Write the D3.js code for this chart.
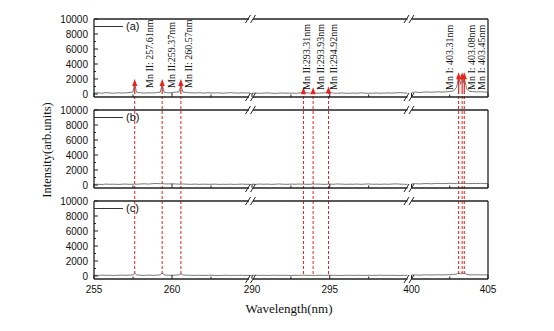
<!DOCTYPE html>
<html><head><meta charset="utf-8">
<script src="https://cdn.jsdelivr.net/npm/d3@7"></script>
<style>body{margin:0;background:#fff}</style>
</head><body><svg id="c" width="554" height="331"></svg>
<script>
// ---------- DATA ----------
const wl1 = [255,255.25,255.5,255.75,256,256.25,256.5,256.75,257,257.25,257.5,257.61,257.72,258,258.25,258.5,258.75,259,259.25,259.37,259.5,259.75,260,260.25,260.45,260.57,260.7,261,261.25,261.5,261.75,262,262.25,262.5,262.75,263,263.25,263.5,263.75,264,264.25,264.5,264.75,265];
const wl2 = [290,290.25,290.5,290.75,291,291.25,291.5,291.75,292,292.25,292.5,292.75,293,293.2,293.31,293.45,293.75,293.93,294.1,294.25,294.5,294.75,294.92,295.1,295.25,295.5,295.75,296,296.25,296.5,296.75,297,297.25,297.5,297.75,298,298.25,298.5,298.75,299,299.25,299.5,299.75,300];
const wl3 = [400,400.25,400.5,400.75,401,401.25,401.5,401.75,402,402.25,402.5,402.75,402.95,403.08,403.2,403.31,403.38,403.45,403.6,403.75,404,404.25,404.5,404.75,405];

const specA1 = [120,160,110,180,140,100,170,130,150,190,260,1450,240,160,120,170,140,180,250,1300,230,150,190,260,280,1200,250,200,160,140,180,120,170,150,130,160,110,150,180,140,120,160,130,150];
const specA2 = [100,130,90,120,150,110,80,120,140,100,130,90,120,180,350,170,110,250,130,100,140,170,450,180,120,100,140,110,90,130,100,150,120,90,110,140,100,130,150,120,160,180,140,120];
const specA3 = [220,260,200,240,280,230,260,300,250,290,330,400,900,2300,1300,2500,1500,2200,700,380,320,280,300,260,240];

const specB1 = [80,100,70,120,90,110,80,100,130,90,110,120,100,140,160,120,180,200,170,190,150,140,160,130,120,110,140,100,90,120,80,110,100,90,120,80,100,90,110,80,100,120,90,100];
const specB2 = [110,90,130,100,120,80,110,140,100,90,120,100,130,110,120,100,90,140,110,120,100,90,130,110,100,140,120,90,110,100,130,90,120,140,100,110,90,120,100,130,150,120,100,90];
const specB3 = [150,180,140,170,200,160,190,220,180,200,230,200,220,250,210,240,220,230,200,180,210,190,220,200,180];

const specC1 = [100,80,120,90,110,70,100,120,90,110,160,380,150,100,80,120,90,110,150,420,140,100,90,120,150,300,130,110,90,80,100,70,90,110,80,60,90,100,70,90,80,100,70,90];
const specC2 = [90,110,80,100,70,90,110,80,100,90,70,100,80,90,110,100,80,90,70,100,90,80,110,90,100,80,70,90,110,80,100,90,70,100,80,90,110,80,100,90,80,70,90,100];
const specC3 = [120,150,110,140,160,130,150,170,140,160,180,200,260,400,300,450,320,380,220,160,150,170,140,160,130];

const panelNames = ["(a)","(b)","(c)"];
const yTicks = [0,2000,4000,6000,8000,10000];
const segDomains = [[255,265],[290,300],[400,405]];
const xTickLabels = [[255,260],[290,295],[400,405]];
const xMinorTicks = [[257.5,262.5],[292.5,297.5],[402.5]];

const lineWl = [257.61,259.37,260.57,293.31,293.93,294.92,403.08,403.31,403.45];
const lineLabels = ["Mn II: 257.61nm","Mn II:259.37nm","Mn II: 260.57nm","Mn II:293.31nm","Mn II:293.93nm","Mn II:294.92nm","Mn I: 403.08nm","Mn I: 403.31nm","Mn I: 403.45nm"];
const arrowTop = [2000,2000,2000,900,900,1000,2900,2900,2900];

// ---------- LAYOUT ----------
const svg = d3.select("#c");
const X0 = 94, X1 = 488;
const segRanges = [[94,250],[252,407.5],[411.5,488]];
const breaks = [251, 409.5];
const xs = segDomains.map((d,i)=>d3.scaleLinear().domain(d).range(segRanges[i]));
function segOf(w){ return w < 280 ? 0 : (w < 350 ? 1 : 2); }
function X(w){ return xs[segOf(w)](w); }

const tops = [19,110,201], H = 78;
const ys = tops.map(t=>d3.scaleLinear().domain([-400,10000]).range([t+H,t]));
const specs = [[specA1,specA2,specA3],[specB1,specB2,specB3],[specC1,specC2,specC3]];
const wls = [wl1,wl2,wl3];
const red = "#e8231d";
const frameCol = "#222";

// red dashed lines (behind)
lineWl.forEach(w=>{
  svg.append("line").attr("x1",X(w)).attr("x2",X(w))
    .attr("y1",ys[0](0)+2).attr("y2",ys[2](0))
    .attr("stroke",red).attr("stroke-width",1).attr("stroke-dasharray","3,2");
});

tops.forEach((t,p)=>{
  const y = ys[p];
  const g = svg.append("g");
  wls.forEach((wl,s)=>{
    const data = wl.map((w,i)=>[w,specs[p][s][i]]);
    g.append("path").datum(data)
      .attr("d",d3.line().x(d=>xs[s](d[0])).y(d=>y(d[1])))
      .attr("fill","none").attr("stroke","#555").attr("stroke-width",0.8);
  });
  const yb = t+H;
  g.append("line").attr("x1",X0).attr("x2",X0).attr("y1",t).attr("y2",yb).attr("stroke",frameCol).attr("stroke-width",1.3);
  g.append("line").attr("x1",X1).attr("x2",X1).attr("y1",t).attr("y2",yb).attr("stroke",frameCol).attr("stroke-width",1.3);
  const pieces = [[X0,breaks[0]-2],[breaks[0]+2,breaks[1]-2],[breaks[1]+2,X1]];
  [t,yb].forEach(yy=>{
    pieces.forEach(pc=>{
      g.append("line").attr("x1",pc[0]).attr("x2",pc[1]).attr("y1",yy).attr("y2",yy).attr("stroke",frameCol).attr("stroke-width",1.3);
    });
    breaks.forEach(b=>{
      [-3,2].forEach(o=>{
        g.append("line").attr("x1",b+o-2.5).attr("y1",yy+4).attr("x2",b+o+2.5).attr("y2",yy-4)
          .attr("stroke",frameCol).attr("stroke-width",1);
      });
    });
  });
  d3.range(0,10001,1000).forEach(v=>{
    const major = v%2000===0;
    g.append("line").attr("x1",X0).attr("x2",X0+(major?4:2)).attr("y1",y(v)).attr("y2",y(v))
      .attr("stroke",frameCol).attr("stroke-width",1);
  });
  yTicks.forEach(v=>{
    g.append("text").attr("x",X0-6).attr("y",y(v)).attr("dy","0.35em")
      .attr("text-anchor","end").attr("font-family","Liberation Sans, Arial, sans-serif")
      .attr("font-size",10).attr("fill","#111").text(v);
  });
  xTickLabels.forEach((arr,s)=>{
    arr.forEach(v=>{
      g.append("line").attr("x1",xs[s](v)).attr("x2",xs[s](v)).attr("y1",yb).attr("y2",yb-4)
        .attr("stroke",frameCol).attr("stroke-width",1);
      if(p===2){
        g.append("text").attr("x",xs[s](v)).attr("y",yb+14).attr("text-anchor","middle")
          .attr("font-family","Liberation Sans, Arial, sans-serif").attr("font-size",10).attr("fill","#111").text(v);
      }
    });
    xMinorTicks[s].forEach(v=>{
      g.append("line").attr("x1",xs[s](v)).attr("x2",xs[s](v)).attr("y1",yb).attr("y2",yb-2.5)
        .attr("stroke",frameCol).attr("stroke-width",1);
    });
  });
  g.append("line").attr("x1",X0).attr("x2",X0+29).attr("y1",y(9000)).attr("y2",y(9000)).attr("stroke","#333").attr("stroke-width",1);
  g.append("text").attr("x",X0+32).attr("y",y(9000)).attr("dy","0.35em")
    .attr("font-family","Liberation Sans, Arial, sans-serif").attr("font-size",11).attr("fill","#111").text(panelNames[p]);
});

// arrows in panel a
lineWl.forEach((w,i)=>{
  const x = X(w), y0 = ys[0](0), yt = ys[0](arrowTop[i]);
  svg.append("line").attr("x1",x).attr("x2",x).attr("y1",y0).attr("y2",yt+5).attr("stroke",red).attr("stroke-width",1.2);
  svg.append("path").attr("d",`M${x},${yt} L${x-2.6},${yt+7} L${x+2.6},${yt+7} Z`).attr("fill",red);
});

// line labels
const labelDx = [15,9,8,3.5,7,4.5,13,-12.5,17.5];
const labelBottom = [88,88,88,90,90,90,90,90,90];
lineWl.forEach((w,i)=>{
  const cx = X(w)+labelDx[i];
  svg.append("text").attr("transform",`translate(${cx+3.5},${labelBottom[i]}) rotate(-90)`)
    .attr("font-family","Liberation Serif, Times New Roman, serif").attr("font-size",10)
    .attr("fill","#111").text(lineLabels[i]);
});

svg.append("text").attr("transform","translate(51,150) rotate(-90)").attr("text-anchor","middle")
  .attr("font-family","Liberation Serif, Times New Roman, serif").attr("font-size",12.5).attr("fill","#111")
  .text("Intensity(arb.units)");
svg.append("text").attr("x",289).attr("y",313).attr("text-anchor","middle")
  .attr("font-family","Liberation Serif, Times New Roman, serif").attr("font-size",13).attr("fill","#111")
  .text("Wavelength(nm)");
</script></body></html>
